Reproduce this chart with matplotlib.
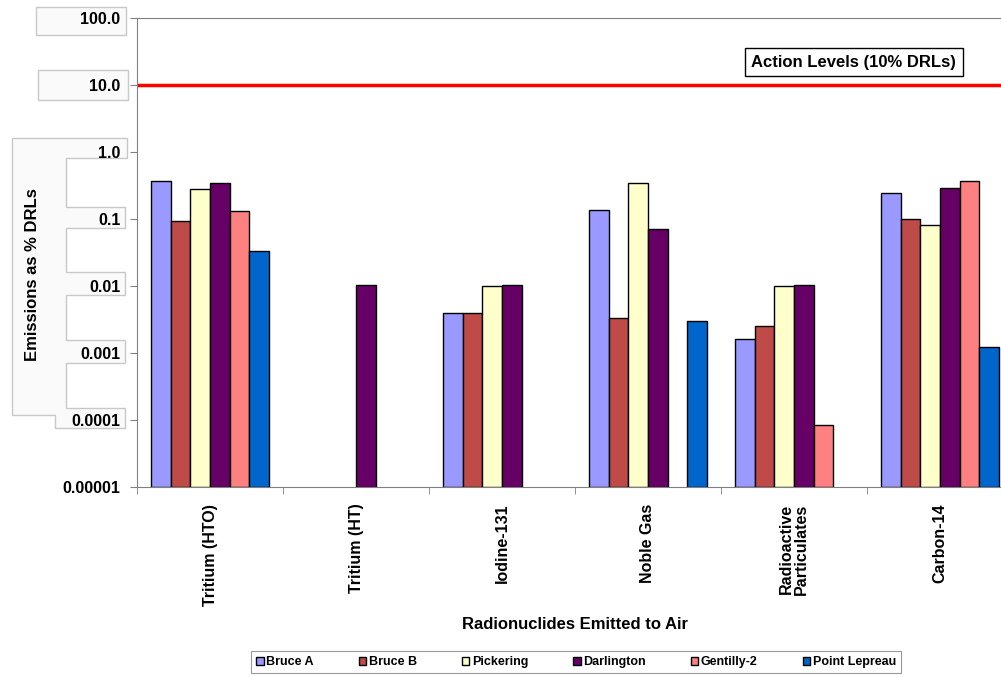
import numpy as np
import matplotlib
matplotlib.use("Agg")
import matplotlib.pyplot as plt
from matplotlib.patches import Polygon
from matplotlib.ticker import FixedLocator, NullLocator

plt.rcParams["font.family"] = ["Liberation Sans", "DejaVu Sans"]
plt.rcParams["font.weight"] = "bold"

# Дані (None = немає стовпця)
categories = ["Tritium (HTO)", "Tritium (HT)", "Iodine-131", "Noble Gas",
              "Radioactive\nParticulates", "Carbon-14"]
series_names = ["Bruce A", "Bruce B", "Pickering", "Darlington",
                "Gentilly-2", "Point Lepreau"]

bruce_a = [0.37, None, 0.004, 0.135, 0.0016, 0.245]
bruce_b = [0.093, None, 0.004, 0.0033, 0.0025, 0.10]
pickering = [0.28, None, 0.01, 0.34, 0.01, 0.08]
darlington = [0.34, 0.0103, 0.0103, 0.071, 0.0103, 0.29]
gentilly_2 = [0.13, None, None, None, 0.000073, 0.37]
point_lepreau = [0.033, None, None, 0.003, None, 0.0012]

action_level = 10.0
tick_values = [0.00001, 0.0001, 0.001, 0.01, 0.1, 1.0, 10.0, 100.0]
tick_labels = ["0.00001", "0.0001", "0.001", "0.01", "0.1", "1.0", "10.0", "100.0"]

colors = ["#9999FF", "#BE4B48", "#FFFFCC", "#660066", "#FF8080", "#0066CC"]

all_series = [bruce_a, bruce_b, pickering, darlington, gentilly_2, point_lepreau]

W, H = 1001, 677


# Пікселі (від верхнього лівого кута) -> частки рисунка
def px(points):
    return [(x / W, 1 - y / H) for x, y in points]


fig = plt.figure(figsize=(W / 100, H / 100), dpi=100)

# Світло-сірі рамки навколо підписів осі Y (як на скриншоті)
frame_style = dict(closed=True, facecolor="#fafafa", edgecolor="#c8c8c8",
                   linewidth=1.0, transform=fig.transFigure, zorder=0)
fig.add_artist(Polygon(px([(36, 7), (126, 7), (126, 35), (36, 35)]), **frame_style))
fig.add_artist(Polygon(px([(38, 70), (128, 70), (128, 100), (38, 100)]), **frame_style))
fig.add_artist(Polygon(px([
    (12, 138), (127, 138), (127, 158), (66, 158), (66, 207), (125, 207),
    (125, 228), (66, 228), (66, 272), (125, 272), (125, 295), (66, 295),
    (66, 340), (125, 340), (125, 363), (66, 363), (66, 408), (125, 408),
    (125, 428), (55, 428), (55, 415), (12, 415),
]), **frame_style))

# правий край осі виходить за межі рисунка, як на оригіналі
ax = fig.add_axes([137 / W, 1 - 487 / H, 876 / W, 469 / H])
ax.patch.set_alpha(0)

x = np.arange(len(categories))
bar_w = 0.135
n = len(all_series)

for i, (name, vals, col) in enumerate(zip(series_names, all_series, colors)):
    xs = []
    hs = []
    for xi, v in zip(x, vals):
        if v is None:
            continue
        xs.append(xi + (i - (n - 1) / 2) * bar_w)
        hs.append(v)
    ax.bar(xs, hs, width=bar_w, bottom=0.00001, color=col,
           edgecolor="black", linewidth=1.0, label=name)

ax.set_yscale("log")
ax.set_ylim(0.00001, 100)
ax.set_xlim(-0.5, len(categories) - 0.5)

ax.yaxis.set_major_locator(FixedLocator(tick_values))
ax.yaxis.set_minor_locator(NullLocator())
ax.set_yticklabels(tick_labels, fontsize=11.5, fontweight="bold")

ax.set_xticks(x)
ax.set_xticklabels(categories, rotation=90, fontsize=11.5, fontweight="bold",
                   va="top", ha="center", linespacing=1.0)
ax.xaxis.set_minor_locator(FixedLocator(np.arange(len(categories) + 1) - 0.5))
ax.tick_params(axis="x", which="major", length=0, pad=12)
ax.tick_params(axis="x", which="minor", length=5, color="#808080")
ax.tick_params(axis="y", length=5, color="#808080", pad=7)

for side in ["left", "bottom", "top"]:
    ax.spines[side].set_color("#808080")
ax.spines["right"].set_visible(False)

ax.axhline(action_level, color="red", linewidth=2.5)
ax.text(4.41, 22, "Action Levels (10% DRLs)", fontsize=12, fontweight="bold",
        ha="center", va="center",
        bbox=dict(boxstyle="square,pad=0.4", facecolor="white",
                  edgecolor="black", linewidth=1.0))

ax.set_ylabel("Emissions as % DRLs", fontsize=12, fontweight="bold")
ax.yaxis.set_label_coords(-0.111, 0.452)
ax.set_xlabel("Radionuclides Emitted to Air", fontsize=12, fontweight="bold",
              labelpad=8)

leg = fig.legend(loc="center", bbox_to_anchor=(576 / W, 1 - 662 / H),
                 ncol=6, fontsize=9, frameon=True, fancybox=False,
                 handlelength=0.6, handleheight=0.6, handletextpad=0.2,
                 columnspacing=3.6, borderpad=0.4)
leg.get_frame().set_edgecolor("#808080")
leg.get_frame().set_linewidth(0.8)
for t in leg.get_texts():
    t.set_fontweight("bold")

fig.savefig("out.png", dpi=100)
